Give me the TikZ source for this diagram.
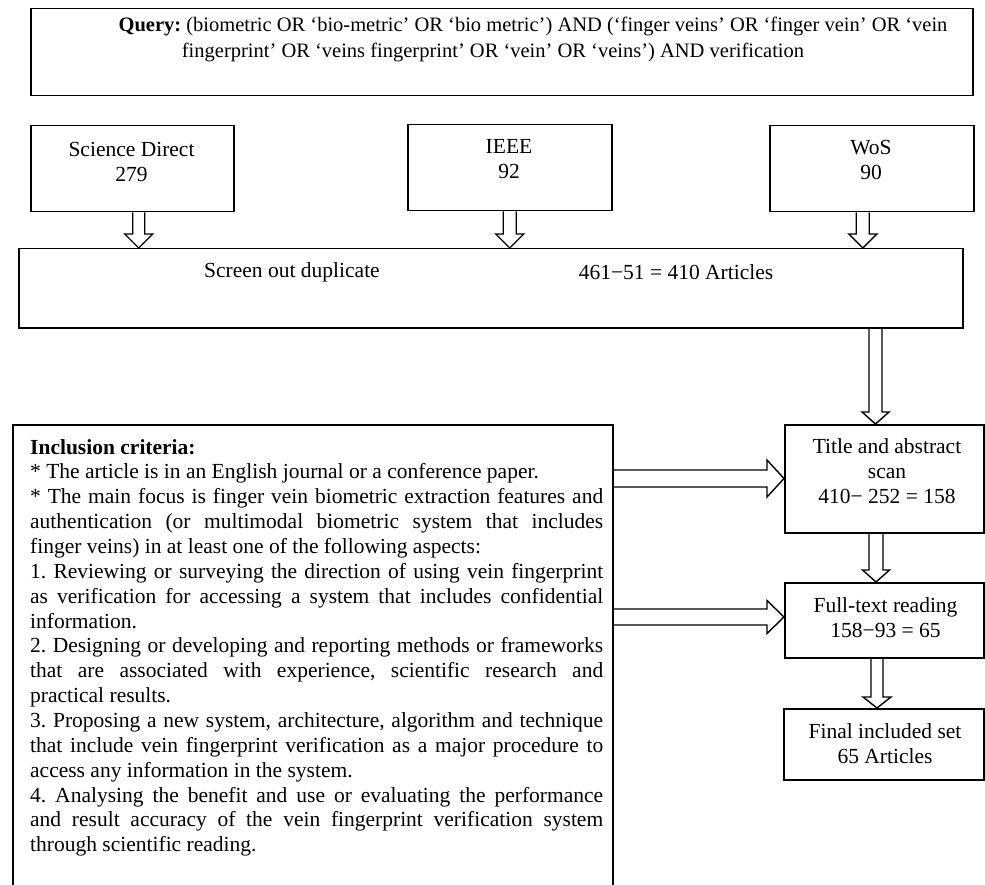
\documentclass[tikz,border=0pt]{standalone}
\usepackage{fontspec}
\setmainfont{Liberation Serif}
\usetikzlibrary{calc}

\newcommand\fs{\fontsize{21.5}{25}\selectfont}
\newcommand\qfs{\fontsize{20.5}{25}\selectfont}
% justified line / natural-width line for the criteria list
\newcommand\jl[1]{\hbox to\hsize{#1}}
\newcommand\rl[1]{\hbox{#1}}

% hollow block arrows: tail point, point at tip level, half shaft, half head, head length
\newcommand\hollowdown[5]{%
  \draw[hollowarrow] let \p1=(#1), \p2=(#2) in
    (\x1-#3pt,\y1) -- (\x1-#3pt,\y2+#5pt) -- (\x1-#4pt,\y2+#5pt) -- (\x1,\y2)
    -- (\x1+#4pt,\y2+#5pt) -- (\x1+#3pt,\y2+#5pt) -- (\x1+#3pt,\y1);}
\newcommand\hollowright[5]{%
  \draw[hollowarrow] let \p1=(#1), \p2=(#2) in
    (\x1,\y1+#3pt) -- (\x2-#5pt,\y1+#3pt) -- (\x2-#5pt,\y1+#4pt) -- (\x2,\y1)
    -- (\x2-#5pt,\y1-#4pt) -- (\x2-#5pt,\y1-#3pt) -- (\x1,\y1-#3pt);}

\tikzset{
  box/.style={draw, line width=1.5pt, rectangle, inner sep=0pt, anchor=north west},
  lbl/.style={inner sep=0pt, align=center, font=\fs},
  qlbl/.style={inner sep=0pt, font=\qfs},
  hollowarrow/.style={draw, line width=1.4pt, line join=miter},
}

\begin{document}
\frenchspacing
\begin{tikzpicture}[x=1pt,y=-1pt]
\useasboundingbox (0,0) rectangle (985,885);
\clip (0,0) rectangle (985,885);

% frames
\node[box, minimum width=942pt, minimum height=87pt] (query) at (30,8) {};
\node[box, minimum width=203pt, minimum height=86pt] (sd) at (30,125) {};
\node[box, minimum width=204pt, minimum height=86pt] (ieee) at (407,124) {};
\node[box, minimum width=204pt, minimum height=86pt] (wos) at (769,125) {};
\node[box, minimum width=944pt, minimum height=79pt] (screen) at (18,248) {};
\node[box, minimum width=199pt, minimum height=108pt] (title) at (784,424) {};
\node[box, minimum width=199pt, minimum height=75pt] (full) at (784,582) {};
\node[box, minimum width=200pt, minimum height=71pt] (final) at (783,708) {};
\node[box, minimum width=600pt, minimum height=480pt] (incl) at (12,424) {};

% texts
\node[qlbl] (tq1) at (533,26) {\textbf{Query:} (biometric OR ‘bio-metric’ OR ‘bio metric’) AND (‘finger veins’ OR ‘finger vein’ OR ‘vein};
\node[qlbl] (tq2) at (493,52) {fingerprint’ OR ‘veins fingerprint’ OR ‘vein’ OR ‘veins’) AND verification};
\node[lbl] (tsd) at (131.5,161.5) {Science Direct\\279};
\node[lbl] (tieee) at (509,159.5) {IEEE\\92};
\node[lbl] (twos) at (871,160) {WoS\\90};
\node[lbl] (tscr1) at (292,272) {Screen out duplicate};
\node[lbl] (tscr2) at (676,272) {461−51 = 410 Articles};
\node[lbl] (ttitle) at (887,471.5) {Title and abstract\\scan\\ 410− 252 = 158};
\node[lbl] (tfull) at (885.5,617.5) {Full-text reading\\158−93 = 65};
\node[lbl] (tfinal) at (885,743.5) {Final included set\\65 Articles};

\node[anchor=north west, inner sep=0pt] (tincl) at (30,439) {\vbox{\hsize=573pt \fs
  \baselineskip=24.85pt \parindent=0pt
  \rl{\bfseries Inclusion criteria:}
  \rl{* The article is in an English journal or a conference paper.}
  \jl{* The main focus is finger vein biometric extraction features and}
  \jl{authentication (or multimodal biometric system that includes}
  \rl{finger veins) in at least one of the following aspects:}
  \jl{1. Reviewing or surveying the direction of using vein fingerprint}
  \jl{as verification for accessing a system that includes confidential}
  \rl{information.}
  \jl{2. Designing or developing and reporting methods or frameworks}
  \jl{that are associated with experience, scientific research and}
  \rl{practical results.}
  \jl{3. Proposing a new system, architecture, algorithm and technique}
  \jl{that include vein fingerprint verification as a major procedure to}
  \rl{access any information in the system.}
  \jl{4. Analysing the benefit and use or evaluating the performance}
  \jl{and result accuracy of the vein fingerprint verification system}
  \rl{through scientific reading.}}};

% connectors
\hollowdown{$(sd.south)+(6.5,0)$}{screen.north}{6}{14}{14}
\hollowdown{ieee.south}{screen.north}{6.5}{14}{14}
\hollowdown{$(wos.south)+(-9,0)$}{screen.north}{6.5}{14}{14}
\hollowdown{$(screen.south west)+(857.5,0)$}{title.north}{6.5}{13.5}{12}
\hollowdown{$(title.south west)+(92,0)$}{full.north}{7}{13.5}{12}
\hollowdown{$(full.south west)+(93,0)$}{final.north}{6}{14}{11}
\hollowright{$(incl.north east)+(0,54.5)$}{title.west}{8.5}{18.5}{17}
\hollowright{$(incl.north east)+(0,193)$}{full.west}{8}{16.5}{17}
\end{tikzpicture}
\end{document}
